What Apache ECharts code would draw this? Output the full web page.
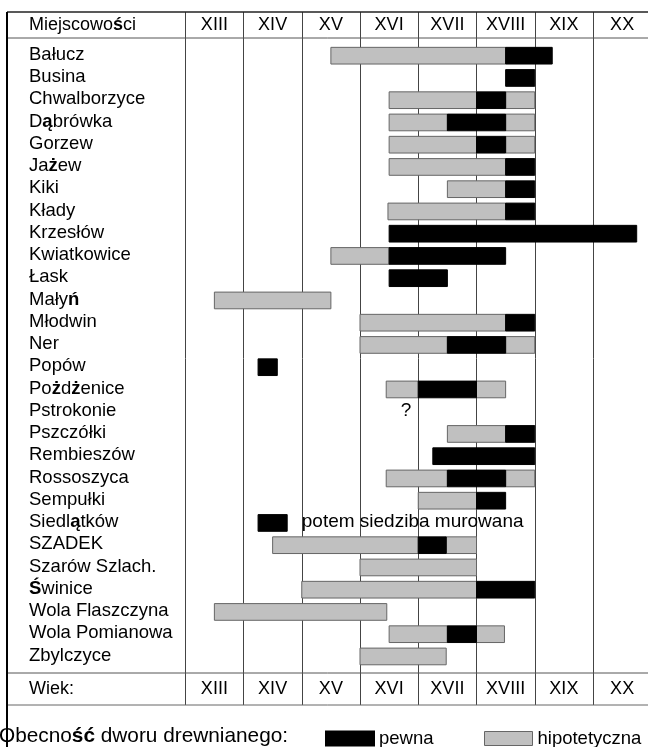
<!DOCTYPE html>
<html>
<head>
<meta charset="utf-8">
<title>Dwory drewniane</title>
<script src="https://cdn.jsdelivr.net/npm/echarts@6/dist/echarts.min.js"></script>
<style>
  html, body { margin: 0; padding: 0; background: #fff; }
  #chart { width: 648px; height: 747px; }
</style>
</head>
<body>
<div id="chart"></div>
<script>
// miejscowości (kolejność jak w tabeli)
var villages = ['Bałucz', 'Busina', 'Chwalborzyce', 'Dąbrówka', 'Gorzew', 'Jażew', 'Kiki', 'Kłady',
  'Krzesłów', 'Kwiatkowice', 'Łask', 'Małyń', 'Młodwin', 'Ner', 'Popów', 'Pożdżenice', 'Pstrokonie',
  'Pszczółki', 'Rembieszów', 'Rossoszyca', 'Sempułki', 'Siedlątków', 'SZADEK', 'Szarów Szlach.',
  'Świnice', 'Wola Flaszczyna', 'Wola Pomianowa', 'Zbylczyce']

// wieki (nagłówek i stopka)
var centuries = ['XIII', 'XIV', 'XV', 'XVI', 'XVII', 'XVIII', 'XIX', 'XX']

// obecność pewna: [miejscowość, od roku, do roku]
var pewna = [
  ['Bałucz', 1750, 1830], ['Busina', 1750, 1800], ['Chwalborzyce', 1700, 1750],
  ['Dąbrówka', 1650, 1750], ['Gorzew', 1700, 1750], ['Jażew', 1750, 1800],
  ['Kiki', 1750, 1800], ['Kłady', 1750, 1800], ['Krzesłów', 1550, 1975],
  ['Kwiatkowice', 1550, 1750], ['Łask', 1550, 1650], ['Młodwin', 1750, 1800],
  ['Ner', 1650, 1750], ['Popów', 1325, 1358], ['Pożdżenice', 1600, 1700],
  ['Pszczółki', 1750, 1800], ['Rembieszów', 1625, 1800], ['Rossoszyca', 1650, 1750],
  ['Sempułki', 1700, 1750], ['Siedlątków', 1325, 1375], ['SZADEK', 1600, 1648],
  ['Świnice', 1700, 1800], ['Wola Pomianowa', 1650, 1700]
]

// obecność hipotetyczna
var hipotetyczna = [
  ['Bałucz', 1450, 1750], ['Chwalborzyce', 1550, 1700], ['Chwalborzyce', 1750, 1800],
  ['Dąbrówka', 1550, 1650], ['Dąbrówka', 1750, 1800], ['Gorzew', 1550, 1700],
  ['Gorzew', 1750, 1800], ['Jażew', 1550, 1750], ['Kiki', 1650, 1750],
  ['Kłady', 1548, 1750], ['Kwiatkowice', 1450, 1550], ['Małyń', 1250, 1450],
  ['Młodwin', 1500, 1750], ['Ner', 1500, 1650], ['Ner', 1750, 1800],
  ['Pożdżenice', 1545, 1600], ['Pożdżenice', 1700, 1750], ['Pszczółki', 1650, 1750],
  ['Rossoszyca', 1545, 1650], ['Rossoszyca', 1750, 1800], ['Sempułki', 1600, 1700],
  ['SZADEK', 1350, 1600], ['SZADEK', 1648, 1700], ['Szarów Szlach.', 1500, 1700],
  ['Świnice', 1400, 1700], ['Wola Flaszczyna', 1250, 1546], ['Wola Pomianowa', 1550, 1650],
  ['Wola Pomianowa', 1700, 1748], ['Zbylczyce', 1500, 1648]
]

// dopiski w tabeli: [miejscowość, rok, tekst]
var notes = [
  ['Pstrokonie', 1579, '?'],
  ['Siedlątków', 1400, 'potem siedziba murowana']
]

var FONT = "'Liberation Sans', Arial, sans-serif"
var LEFT = 185.25      // początek kolumny XIII
var COLW = 58.25       // szerokość kolumny wieku
var ROWH = 22.25       // wysokość wiersza
var TOP = 12, HEAD = 38, FOOT = 673, BOTTOM = 705

// znaki pogrubione jak w oryginale
function bolden (s) {
  return s.replace(/([ąśżńćźŚ]+)/g, '{b|$1}')
}

function toRows (list) {
  return list.map(function (d) { return [villages.indexOf(d[0]), d[1], d[2]] })
}

function renderSeg (params, api) {
  var row = api.value(0)
  var a = api.coord([api.value(1), row])
  var b = api.coord([api.value(2), row])
  var h = api.size([0, 1])[1] * 0.75
  return {
    type: 'rect',
    shape: { x: a[0], y: a[1] - h / 2, width: b[0] - a[0], height: h },
    style: api.style()
  }
}

var chart = echarts.init(document.getElementById('chart'))

var hline = function (y, color, w) {
  return { type: 'line', shape: { x1: 7, y1: y, x2: 648, y2: y }, style: { stroke: color, lineWidth: w }, z: 5 }
}

var option = {
  animation: false,
  textStyle: { fontFamily: FONT },
  grid: [
    // ramka tabeli z kolumnami wieków
    { left: LEFT, width: COLW * 8, top: TOP, height: BOTTOM - TOP, outerBoundsMode: 'none' },
    // wiersze miejscowości
    { left: LEFT, width: COLW * 8, top: 55.7 - ROWH / 2, height: ROWH * villages.length, outerBoundsMode: 'none' }
  ],
  xAxis: [
    {
      gridIndex: 0, type: 'category', data: centuries, position: 'top',
      axisLine: { show: false }, axisTick: { show: false },
      axisLabel: { inside: true, margin: 4, color: '#000', fontSize: 18, lineHeight: 18, fontFamily: FONT },
      splitLine: { show: true, lineStyle: { color: '#444', width: 1 } }
    },
    {
      gridIndex: 0, type: 'category', data: centuries, position: 'bottom',
      axisLine: { show: false }, axisTick: { show: false },
      axisLabel: { inside: true, margin: 7, color: '#000', fontSize: 18, lineHeight: 18, fontFamily: FONT },
      splitLine: { show: false }
    },
    { gridIndex: 1, type: 'value', min: 1200, max: 2000, show: false }
  ],
  yAxis: [
    { gridIndex: 0, type: 'value', show: false },
    {
      gridIndex: 1, type: 'category', data: villages, inverse: true,
      axisLine: { show: false }, axisTick: { show: false }, splitLine: { show: false },
      axisLabel: {
        interval: 0, align: 'left', margin: LEFT - 29, color: '#000', fontSize: 18.5, fontFamily: FONT,
        padding: [0, 0, 2, 0],
        formatter: bolden,
        rich: { b: { fontWeight: 'bold', fontSize: 18.5, fontFamily: FONT, color: '#000' } }
      }
    }
  ],
  legend: [
    {
      left: 325, top: 729, padding: 0, itemWidth: 48, itemHeight: 14, icon: 'rect',
      data: [{ name: 'pewna', itemStyle: { color: '#000' } }],
      textStyle: { fontSize: 18.5, color: '#000', fontFamily: FONT, lineHeight: 14 }
    },
    {
      left: 484, top: 729, padding: 0, itemWidth: 48, itemHeight: 14, icon: 'rect',
      data: [{ name: 'hipotetyczna', itemStyle: { color: '#c0c0c0', borderColor: '#666', borderWidth: 1 } }],
      textStyle: { fontSize: 18.5, color: '#000', fontFamily: FONT, lineHeight: 14 }
    }
  ],
  graphic: [
    hline(TOP, '#222', 1.5),
    hline(HEAD, '#555', 1),
    hline(FOOT, '#555', 1),
    hline(BOTTOM, '#666', 1),
    { type: 'line', shape: { x1: 7, y1: TOP, x2: 7, y2: 747 }, style: { stroke: '#000', lineWidth: 2 }, z: 5 },
    { type: 'text', x: 29, y: 25, style: { text: bolden('Miejscowości'), fontSize: 18, fontFamily: FONT, fill: '#000', verticalAlign: 'middle', rich: { b: { fontWeight: 'bold', fontSize: 18, fontFamily: FONT } } } },
    { type: 'text', x: 29, y: 689, style: { text: 'Wiek:', fontSize: 18, fontFamily: FONT, fill: '#000', verticalAlign: 'middle' } },
    { type: 'text', x: -1, y: 736, style: { text: bolden('Obecność') + ' dworu drewnianego:', fontSize: 20.8, fontFamily: FONT, fill: '#000', verticalAlign: 'middle', rich: { b: { fontWeight: 'bold', fontSize: 20.8, fontFamily: FONT } } } }
  ],
  series: [
    {
      name: 'hipotetyczna', type: 'custom', xAxisIndex: 2, yAxisIndex: 1,
      renderItem: renderSeg, encode: { x: [1, 2], y: 0 },
      itemStyle: { color: '#c0c0c0', borderColor: '#666', borderWidth: 1 },
      data: toRows(hipotetyczna), z: 3
    },
    {
      name: 'pewna', type: 'custom', xAxisIndex: 2, yAxisIndex: 1,
      renderItem: renderSeg, encode: { x: [1, 2], y: 0 },
      itemStyle: { color: '#000', borderColor: '#000', borderWidth: 1 },
      data: toRows(pewna), z: 4
    },
    {
      name: 'dopiski', type: 'custom', xAxisIndex: 2, yAxisIndex: 1,
      encode: { x: 1, y: 0 },
      renderItem: function (params, api) {
        var p = api.coord([api.value(1), api.value(0)])
        var txt = notes[params.dataIndex][2]
        return {
          type: 'text',
          style: {
            text: txt, x: p[0], y: p[1] - 1, fontSize: 19, fontFamily: FONT, fill: '#000',
            align: txt === '?' ? 'center' : 'left', verticalAlign: 'middle'
          }
        }
      },
      data: notes.map(function (d) { return [villages.indexOf(d[0]), d[1]] }), z: 4
    }
  ]
}

chart.setOption(option)
</script>
</body>
</html>
